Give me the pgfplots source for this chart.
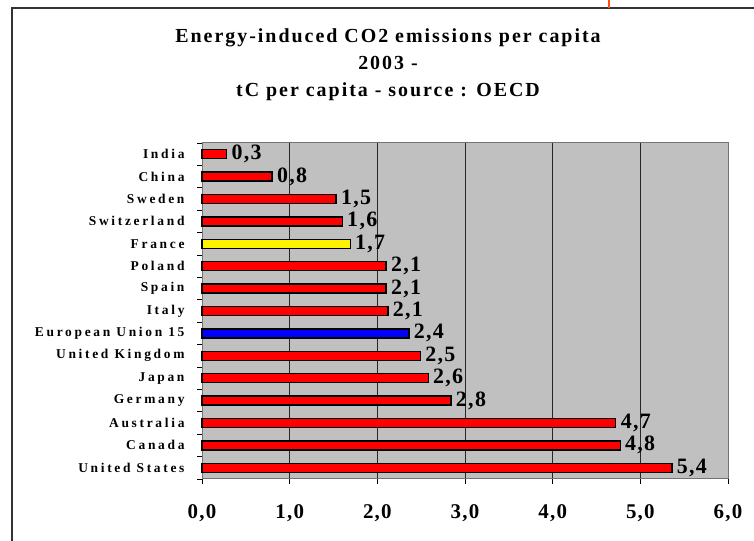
\documentclass[border=0pt]{standalone}
\usepackage{fontspec}
\setmainfont{Liberation Serif}
\usepackage{pgfplots}
\pgfplotsset{compat=1.18}
\newfontfamily\lsA[LetterSpace=20]{Liberation Serif}
\newfontfamily\lsT[LetterSpace=10]{Liberation Serif}
\newfontfamily\lsV[LetterSpace=6]{Liberation Serif}
\definecolor{plotgray}{RGB}{192,192,192}
\definecolor{topor}{RGB}{255,80,20}
\begin{document}
\begin{tikzpicture}[x=1bp,y=1bp]
\path[use as bounding box] (0,0) rectangle (754,541);
\draw[line width=1.6bp, black!80] (12,0) -- (12,533) -- (754,533);
\draw[line width=2.2bp, topor] (609,533) -- (609,541);
\node[align=center, font=\lsT\bfseries\fontsize{20}{27}\selectfont] at (388,476)
  {Energy-induced CO2 emissions per capita\\2003 -\\tC per capita - source : OECD};
\begin{axis}[
  at={(202bp,62bp)}, anchor=south west, scale only axis,
  width=526bp, height=336bp,
  xmin=0, xmax=6, ymin=0.5, ymax=15.5,
  xbar, bar width=9bp, bar shift=0pt,
  axis background/.style={fill=plotgray},
  axis line style={black!55, line width=1bp},
  xtick pos=bottom, ytick pos=left,
  xtick={0,1,2,3,4,5,6},
  xticklabels={{0,0},{1,0},{2,0},{3,0},{4,0},{5,0},{6,0}},
  xticklabel style={font=\lsV\bfseries\fontsize{21}{21}\selectfont, yshift=-17bp},
  xmajorgrids, grid style={black!85, line width=0.8bp},
  tick align=outside, major tick length=5bp,
  tick style={black, line width=0.9bp},
  ytick={0.5,1.5,...,15.5}, yticklabels={},
  extra y ticks={1,2,...,15},
  extra y tick labels={United States,Canada,Australia,Germany,Japan,United Kingdom,European Union 15,Italy,Spain,Poland,France,Switzerland,Sweden,China,India},
  extra y tick style={major tick length=0pt, yticklabel style={font=\lsA\bfseries\fontsize{13.5}{13.5}\selectfont, xshift=-14bp}},
  nodes near coords={\pgfmathprintnumber[fixed,fixed zerofill,precision=1,use comma,assume math mode=true]{\pgfplotspointmeta}},
  nodes near coords style={font=\lsV\bfseries\fontsize{22}{22}\selectfont, anchor=west, xshift=1bp, black},
  clip=false,
]
\addplot[fill=red, draw=black, line width=1.3bp] coordinates {
  (5.36,1) (4.77,2) (4.72,3) (2.84,4) (2.58,5) (2.49,6) (2.12,8) (2.10,9) (2.10,10) (1.60,12) (1.53,13) (0.80,14) (0.28,15)};
\addplot[fill=yellow, draw=black, line width=1.3bp] coordinates {(1.69,11)};
\addplot[fill=blue, draw=black, line width=1.3bp] coordinates {(2.36,7)};
\end{axis}
\end{tikzpicture}
\end{document}
